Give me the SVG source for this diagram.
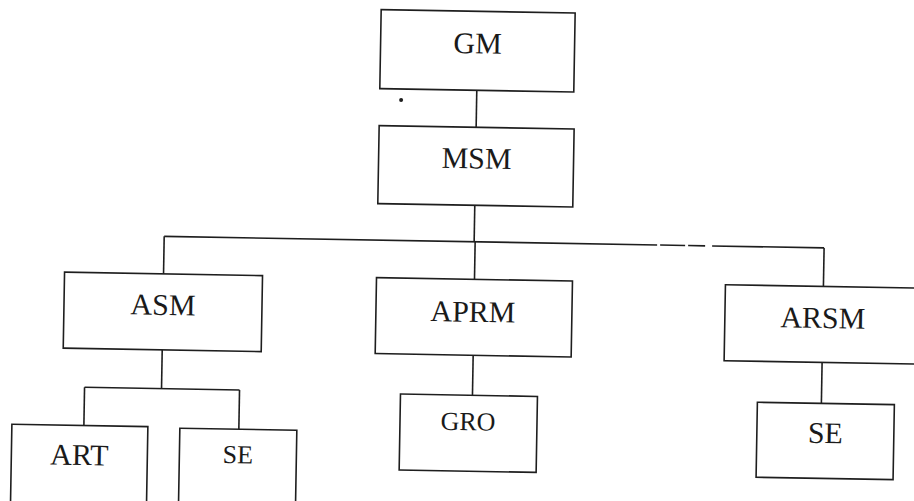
<svg xmlns="http://www.w3.org/2000/svg" width="914" height="501" viewBox="0 0 914 501">
<style>
.box{fill:#fff;stroke:#1e1e1e;stroke-width:1.6}
.ln{fill:none;stroke:#1e1e1e;stroke-width:1.6}
.t{font-family:"Liberation Serif","Times New Roman",serif;fill:#1a1a1a;text-anchor:middle}
.big{font-size:30px}
.sm{font-size:26px}
</style>
<rect width="914" height="501" fill="#fff"/>
<g transform="rotate(1 457 250)">
<g id="connectors">
<line class="ln" x1="474" y1="90" x2="474" y2="127"/>
<line class="ln" x1="474" y1="205" x2="474" y2="241.5"/>
<line class="ln" x1="164" y1="241.5" x2="657" y2="241.5"/>
<line class="ln" x1="660" y1="241.5" x2="685" y2="241.5"/>
<line class="ln" x1="688" y1="241.5" x2="705" y2="241.5"/>
<line class="ln" x1="712" y1="241.5" x2="824" y2="241.5"/>
<line class="ln" x1="164" y1="241.5" x2="164" y2="279"/>
<line class="ln" x1="475" y1="241.5" x2="475" y2="279"/>
<line class="ln" x1="824" y1="241.5" x2="824" y2="280"/>
<line class="ln" x1="164" y1="355" x2="164" y2="393.7"/>
<line class="ln" x1="87" y1="393.7" x2="242" y2="393.7"/>
<line class="ln" x1="87" y1="393.7" x2="87" y2="432"/>
<line class="ln" x1="242" y1="393.7" x2="242" y2="433"/>
<line class="ln" x1="475" y1="355" x2="475" y2="395"/>
<line class="ln" x1="824" y1="356" x2="824" y2="397"/>
</g>
<g id="GM"><rect class="box" x="377" y="11" width="194" height="79"/><text class="t big" x="474" y="53">GM</text></g>
<g id="MSM"><rect class="box" x="377" y="127" width="195" height="78"/><text class="t big" x="475" y="168">MSM</text></g>
<g id="ASM"><rect class="box" x="65" y="279" width="198" height="76"/><text class="t big" x="164" y="320">ASM</text></g>
<g id="APRM"><rect class="box" x="377" y="279" width="196" height="76"/><text class="t big" x="474" y="321.5">APRM</text></g>
<g id="ARSM"><rect class="box" x="726" y="280" width="196" height="76"/><text class="t big" x="824" y="321.5">ARSM</text></g>
<g id="ART"><rect class="box" x="15" y="432" width="136" height="90"/><text class="t big" x="83" y="471.5">ART</text></g>
<g id="SE1"><rect class="box" x="183" y="433" width="117" height="90"/><text class="t sm" x="241.5" y="467">SE</text></g>
<g id="GRO"><rect class="box" x="403" y="395" width="137" height="76"/><text class="t sm" x="471" y="430">GRO</text></g>
<g id="SE2"><rect class="box" x="760" y="397" width="137" height="75"/><text class="t big" x="828.5" y="436.5">SE</text></g>
<circle cx="398.5" cy="101" r="2" fill="#1e1e1e"/>
</g>
</svg>
